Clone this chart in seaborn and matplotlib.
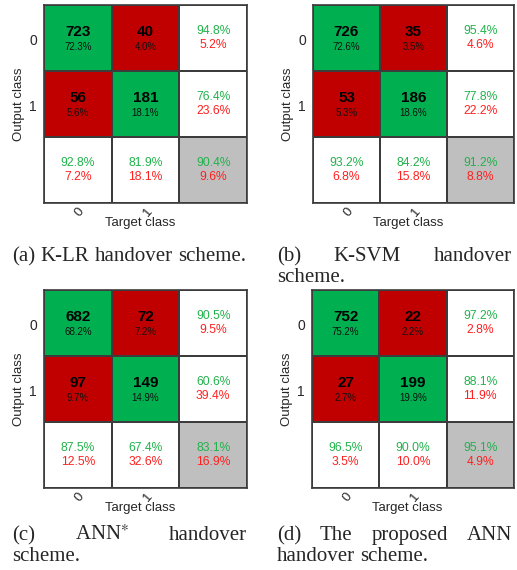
import numpy as np
import matplotlib
matplotlib.use("Agg")
import matplotlib.pyplot as plt
from matplotlib.colors import ListedColormap
import seaborn as sns

# Confusion counts per scheme: rows = output class, columns = target class
class_labels = ["0", "1"]
counts_klr = [[723, 40], [56, 181]]
counts_ksvm = [[726, 35], [53, 186]]
counts_ann_star = [[682, 72], [97, 149]]
counts_ann_proposed = [[752, 22], [27, 199]]

# Sub-figure captions, one list of words per printed line
caption_a = [["(a)", "K-LR", "handover", "scheme."]]
caption_b = [["(b)", "K-SVM", "handover"], ["scheme."]]
caption_c = [["(c)", r"ANN$^{\ast}$", "handover"], ["scheme."]]
caption_d = [["(d)", "The", "proposed", "ANN"], ["handover", "scheme."]]

W, H = 517, 570
sns.set_theme(style="white")
plt.rcParams["font.family"] = ["Liberation Sans", "DejaVu Sans"]
plt.rcParams["mathtext.fontset"] = "stix"

GREEN_CELL = "#00B050"
RED_CELL = "#C00000"
GRAY_CELL = "#BFBFBF"
GREEN_TXT = "#22B24C"
RED_TXT = "#FF2020"
EDGE = "#3C3C3C"

fig = plt.figure(figsize=(W / 100, H / 100), dpi=100)


def px_axes(x0, y0, x1, y1):
    return fig.add_axes([x0 / W, 1 - y1 / H, (x1 - x0) / W, (y1 - y0) / H])


def fmt(p):
    return f"{p:.1f}%"


def draw_confusion(ax, counts):
    c = np.array(counts, dtype=float)
    total = c.sum()
    codes = np.array([[1, 2, 0], [2, 1, 0], [0, 0, 3]])
    cmap = ListedColormap(["white", GREEN_CELL, RED_CELL, GRAY_CELL])
    sns.heatmap(codes, cmap=cmap, vmin=-0.5, vmax=3.5, cbar=False,
                linewidths=1.2, linecolor=EDGE, square=False, ax=ax)
    for s in ax.spines.values():
        s.set_visible(True)
        s.set_color(EDGE)
        s.set_linewidth(1.2)

    # counts and share of all samples
    for i in range(2):
        for j in range(2):
            ax.text(j + 0.5, i + 0.41, f"{int(c[i, j])}", ha="center", va="center",
                    fontsize=11, fontweight="bold", color="black")
            ax.text(j + 0.5, i + 0.64, fmt(100 * c[i, j] / total), ha="center",
                    va="center", fontsize=7, color="#111111")

    def pair(x, y, good, bad):
        ax.text(x, y + 0.39, fmt(good), ha="center", va="center",
                fontsize=8.7, color=GREEN_TXT)
        ax.text(x, y + 0.60, fmt(bad), ha="center", va="center",
                fontsize=8.7, color=RED_TXT)

    # per output class (rows)
    for i in range(2):
        ok = 100 * c[i, i] / c[i].sum()
        pair(2.5, i, ok, 100 - ok)
    # per target class (columns)
    for j in range(2):
        ok = 100 * c[j, j] / c[:, j].sum()
        pair(j + 0.5, 2, ok, 100 - ok)
    acc = 100 * np.trace(c) / total
    pair(2.5, 2, acc, 100 - acc)

    ax.set_xticks([0.5, 1.5])
    ax.set_xticklabels(class_labels, rotation=50, ha="right", va="top",
                       rotation_mode="anchor", fontsize=9.5)
    ax.set_yticks([0.55, 1.55])
    ax.set_yticklabels(class_labels, rotation=0, fontsize=10)
    ax.tick_params(axis="both", length=0)
    ax.tick_params(axis="x", pad=2)
    ax.tick_params(axis="y", pad=5)
    ax.set_xlabel("Target class", fontsize=9.5)
    ax.set_ylabel("Output class", fontsize=9.5)
    ax.xaxis.label.set_va("center")
    ax.yaxis.label.set_va("center")
    ax.xaxis.set_label_coords(0.473, -0.10)
    ax.yaxis.set_label_coords(-0.123, 0.5)


panels = [
    ((44, 5, 247, 203), counts_klr),
    ((313, 5, 514, 203), counts_ksvm),
    ((44, 290, 247, 488), counts_ann_star),
    ((312, 290, 514, 488), counts_ann_proposed),
]
for box, counts in panels:
    draw_confusion(px_axes(*box), counts)

renderer = fig.canvas.get_renderer()


def caption(lines, x0, x1, baselines):
    for k, (words, yb) in enumerate(zip(lines, baselines)):
        last = k == len(lines) - 1
        texts = [fig.text(0, 0, w, ha="left", va="baseline", fontsize=15,
                          family=["Liberation Serif", "DejaVu Serif"]) for w in words]
        widths = [t.get_window_extent(renderer).width for t in texts]
        if not last and len(words) > 1:
            gap = (x1 - x0 - sum(widths)) / (len(words) - 1)
        else:
            gap = 0.25 * 15 * 100 / 72
        x = x0
        for t, w in zip(texts, widths):
            t.set_position((x / W, 1 - yb / H))
            x += w + gap


caption(caption_a, 12.5, 247, [261])
caption(caption_b, 277, 512, [261, 282])
caption(caption_c, 12.5, 247, [540, 561])
caption(caption_d, 277, 512, [540, 561])

fig.savefig("out.png", dpi=100)
